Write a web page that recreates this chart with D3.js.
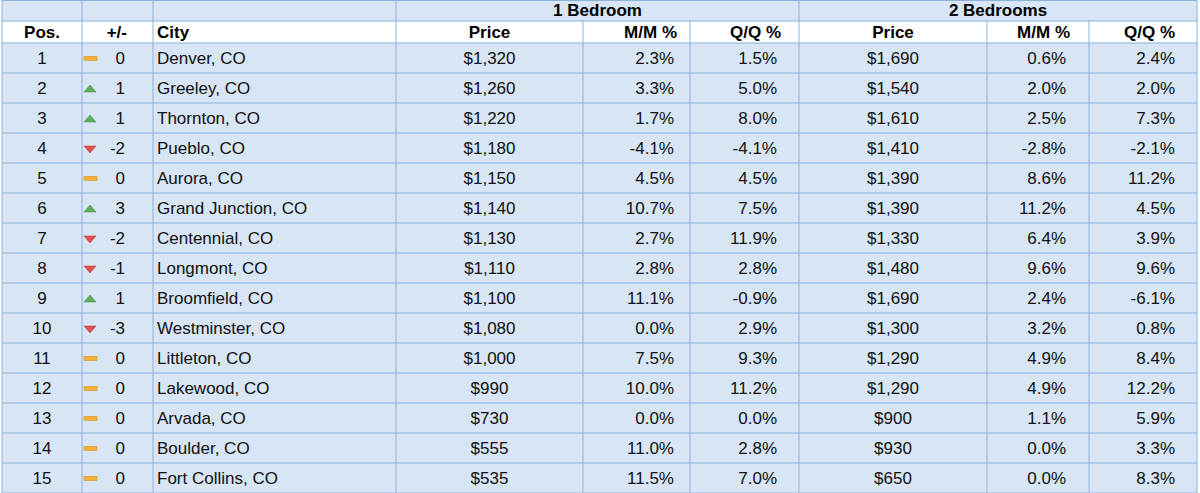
<!DOCTYPE html><html><head><meta charset="utf-8">
<script src="https://cdn.jsdelivr.net/npm/d3@7"></script>
<style>body{margin:0;background:#fff}svg{display:block;font-family:"Liberation Sans",Arial,sans-serif}</style></head><body>
<svg id="c" width="1200" height="493"></svg>
<script>
const pos=[1,2,3,4,5,6,7,8,9,10,11,12,13,14,15];
const change=[0,1,1,-2,0,3,-2,-1,1,-3,0,0,0,0,0];
const cities=["Denver, CO","Greeley, CO","Thornton, CO","Pueblo, CO","Aurora, CO","Grand Junction, CO","Centennial, CO","Longmont, CO","Broomfield, CO","Westminster, CO","Littleton, CO","Lakewood, CO","Arvada, CO","Boulder, CO","Fort Collins, CO"];
const price1=[1320,1260,1220,1180,1150,1140,1130,1110,1100,1080,1000,990,730,555,535];
const mm1=[2.3,3.3,1.7,-4.1,4.5,10.7,2.7,2.8,11.1,0.0,7.5,10.0,0.0,11.0,11.5];
const qq1=[1.5,5.0,8.0,-4.1,4.5,7.5,11.9,2.8,-0.9,2.9,9.3,11.2,0.0,2.8,7.0];
const price2=[1690,1540,1610,1410,1390,1390,1330,1480,1690,1300,1290,1290,900,930,650];
const mm2=[0.6,2.0,2.5,-2.8,8.6,11.2,6.4,9.6,2.4,3.2,4.9,4.9,1.1,0.0,0.0];
const qq2=[2.4,2.0,7.3,-2.1,11.2,4.5,3.9,9.6,-6.1,0.8,8.4,12.2,5.9,3.3,8.3];
const headers=["Pos.","+/-","City","Price","M/M %","Q/Q %","Price","M/M %","Q/Q %"];
const groups=["1 Bedroom","2 Bedrooms"];

const svg=d3.select("#c");
const xs=[2,82,153,396,583,690,799,987,1089,1197];
const rowY=d3.scaleLinear().domain([0,15]).range([43,493]);
const lineC="#8db1df",bg="#d7e5f4";
svg.append("rect").attr("x",2).attr("y",0).attr("width",1195).attr("height",493).attr("fill",bg);
svg.append("rect").attr("x",2).attr("y",21).attr("width",1195).attr("height",22).attr("fill","#fff");
const hy=[21,43].concat(d3.range(1,16).map(i=>rowY(i)));
svg.selectAll("line.h").data(hy).join("line").attr("x1",2).attr("x2",1197).attr("y1",d=>d).attr("y2",d=>d).attr("stroke",lineC);
xs.forEach((x,i)=>{
  const top=(i===4||i===5||i===7||i===8)?21:0;
  svg.append("line").attr("x1",x).attr("x2",x).attr("y1",top).attr("y2",493).attr("stroke",lineC);
});
svg.append("line").attr("x1",2).attr("x2",1197).attr("y1",0.5).attr("y2",0.5).attr("stroke",lineC);
[[3,6],[6,9]].forEach((g,i)=>svg.append("text").attr("x",(xs[g[0]]+xs[g[1]])/2).attr("y",16).attr("text-anchor","middle").attr("font-weight","bold").attr("font-size",17).text(groups[i]));
const hAnch=["middle","end","start","middle","end","end","middle","end","end"];
const hPad=[0,26,0,0,13,18,0,19,22];
headers.forEach((h,i)=>{
  let x=hAnch[i]==="middle"?(xs[i]+xs[i+1])/2:hAnch[i]==="end"?xs[i+1]-hPad[i]:xs[i]+4;
  svg.append("text").attr("x",x).attr("y",38).attr("text-anchor",hAnch[i]).attr("font-weight","bold").attr("font-size",17).text(h);
});
const fmtP=d=>"$"+d3.format(",")(d), fmtPc=d=>d.toFixed(1)+"%";
const cols=[
 {v:pos,f:d=>d,a:"middle"},
 {v:change,f:d=>d,a:"end",pad:28},
 {v:cities,f:d=>d,a:"start"},
 {v:price1,f:fmtP,a:"middle"},
 {v:mm1,f:fmtPc,a:"end",pad:16},
 {v:qq1,f:fmtPc,a:"end",pad:22},
 {v:price2,f:fmtP,a:"middle"},
 {v:mm2,f:fmtPc,a:"end",pad:23},
 {v:qq2,f:fmtPc,a:"end",pad:22}
];
cols.forEach((c,i)=>{
  const x=c.a==="middle"?(xs[i]+xs[i+1])/2:c.a==="end"?xs[i+1]-c.pad:xs[i]+4;
  svg.selectAll(null).data(c.v).join("text").attr("x",x).attr("y",(d,j)=>rowY(j)+21)
   .attr("text-anchor",c.a).attr("font-size",17).attr("fill","#111").text(c.f);
});
const g=svg.selectAll("g.ind").data(change).join("g").attr("transform",(d,j)=>`translate(90,${rowY(j)+15})`);
g.each(function(d){
  const s=d3.select(this);
  if(d===0) s.append("rect").attr("x",-6).attr("y",-1.5).attr("width",13).attr("height",4).attr("fill","#f3b03a").attr("stroke","#e08e10").attr("stroke-width",0.6);
  else if(d>0) s.append("path").attr("d","M-6,4 L0,-3 L6,4 Z").attr("fill","#5fad5f").attr("stroke","#3d8a3d").attr("stroke-width",0.5);
  else s.append("path").attr("d","M-6,-2 L0,5 L6,-2 Z").attr("fill","#e05050").attr("stroke","#b83030").attr("stroke-width",0.5);
});
</script></body></html>
